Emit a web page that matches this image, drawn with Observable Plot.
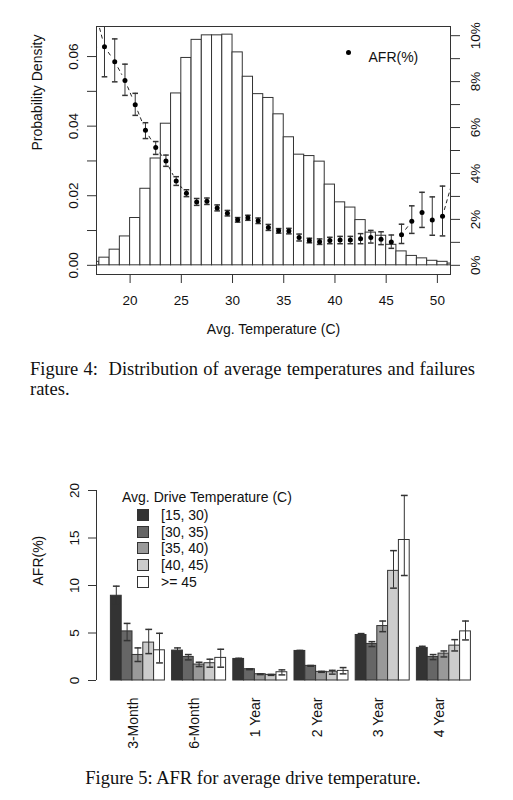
<!DOCTYPE html>
<html><head><meta charset="utf-8">
<script src="https://cdn.jsdelivr.net/npm/d3@7"></script>
<script src="https://cdn.jsdelivr.net/npm/@observablehq/plot@0.6"></script>
<style>
body{margin:0;background:#fff;font-family:"Liberation Sans",Arial,sans-serif;}
#root{position:relative;width:513px;height:800px;overflow:hidden;}
.cap{position:absolute;font-family:"Liberation Serif","Times New Roman",serif;font-size:18.5px;color:#111;line-height:20px;white-space:nowrap;}
.lg{position:absolute;font-family:"Liberation Sans",Arial,sans-serif;font-size:14px;color:#111;line-height:16px;white-space:nowrap;}
.sw{position:absolute;width:10px;height:10px;border:1px solid #333;}
</style></head><body>
<div id="root">
  <div id="fig4" style="position:absolute;left:0;top:0"></div>
  <div class="cap" style="left:30px;top:359px;width:445px;text-align:justify;text-align-last:justify;">Figure 4:&nbsp; Distribution of average temperatures and failures</div>
  <div class="cap" style="left:30px;top:379px;">rates.</div>
  <div id="fig5" style="position:absolute;left:0;top:470px"></div>
  <div id="legend5"></div>
  <div class="cap" style="left:0;top:768px;width:506px;text-align:center;">Figure 5: AFR for average drive temperature.</div>
</div>
<script>
// ---------- Figure 4 data ----------
const binStart = [16,17,18,19,20,21,22,23,24,25,26,27,28,29,30,31,32,33,34,35,36,37,38,39,40,41,42,43,44,45,46,47,48,49,50,51];
const density  = [0.0010,0.0022,0.0045,0.0083,0.0136,0.0220,0.0307,0.0407,0.0494,0.0596,0.0648,0.0661,0.0661,0.0663,0.0612,0.0542,0.0492,0.0481,0.0434,0.0368,0.0318,0.0314,0.0298,0.0232,0.0181,0.0166,0.0130,0.0094,0.0085,0.0059,0.0040,0.0027,0.0020,0.0013,0.0010,0.0005];
const afrTemp  = [16.5,17.5,18.5,19.5,20.5,21.5,22.5,23.5,24.5,25.5,26.5,27.5,28.5,29.5,30.5,31.5,32.5,33.5,34.5,35.5,36.5,37.5,38.5,39.5,40.5,41.5,42.5,43.5,44.5,45.5,46.5,47.5,48.5,49.5,50.5,51.5];
const afrPct   = [11.2,9.52,8.87,8.05,6.99,5.88,5.13,4.54,3.67,3.14,2.76,2.79,2.50,2.27,1.98,2.07,1.94,1.65,1.50,1.49,1.21,1.08,1.03,1.08,1.10,1.10,1.16,1.21,1.14,1.01,1.33,1.92,2.30,1.97,2.14,3.70];
const afrLo    = [9.5,8.21,7.99,7.40,6.53,5.52,4.83,4.31,3.48,2.99,2.61,2.65,2.37,2.15,1.88,1.96,1.82,1.52,1.40,1.37,1.06,0.98,0.91,0.94,0.94,0.94,0.94,0.97,0.90,0.74,0.95,1.39,1.65,1.31,1.28,2.50];
const afrHi    = [13.0,10.9,9.86,8.76,7.49,6.21,5.39,4.80,3.86,3.29,2.91,2.93,2.63,2.39,2.08,2.18,2.06,1.78,1.60,1.61,1.36,1.18,1.15,1.22,1.26,1.26,1.38,1.52,1.46,1.32,1.79,2.59,3.18,2.98,3.45,5.00];
const densityTicks = [0,0.01,0.02,0.03,0.04,0.05,0.06];
const pctTicks = [0,1,2,3,4,5,6,7,8,9,10];
const tempTicks = [20,25,30,35,40,45,50];

// ---------- Figure 5 data ----------
const periods = ["3-Month","6-Month","1 Year","2 Year","3 Year","4 Year"];
const tempGroups = ["[15, 30)","[30, 35)","[35, 40)","[40, 45)",">= 45"];
const grays = ["#333333","#666666","#999999","#cccccc","#ffffff"];
const afr15_30 = [8.92,3.15,2.27,3.11,4.79,3.43];
const afr30_35 = [5.17,2.48,1.19,1.54,3.85,2.48];
const afr35_40 = [2.69,1.68,0.66,0.91,5.73,2.83];
const afr40_45 = [3.99,1.82,0.59,0.87,11.54,3.67];
const afr45up  = [3.18,2.38,0.87,1.01,14.79,5.17];
const lo15_30 = [8.04,2.87,2.20,3.05,4.64,3.25], hi15_30 = [9.93,3.43,2.34,3.17,4.94,3.60];
const lo30_35 = [4.20,2.17,1.14,1.50,3.57,2.20], hi30_35 = [6.01,2.73,1.24,1.58,4.09,2.73];
const lo35_40 = [2.00,1.47,0.62,0.86,5.14,2.48], hi35_40 = [3.43,1.92,0.70,0.96,6.26,3.11];
const lo40_45 = [2.83,1.40,0.54,0.67,9.72,3.11], hi40_45 = [5.38,2.24,0.64,1.07,13.67,4.30];
const lo45up  = [1.85,1.40,0.59,0.70,11.05,4.27], hi45up  = [4.97,3.29,1.12,1.36,19.48,6.26];
const afrTicks5 = [0,5,10,15,20];

// ---------- Figure 4 ----------
const FONT = "'Liberation Sans', Arial, sans-serif";
const W = 513;
const PCT = 0.0066;              // density value that corresponds to 1% AFR on the right axis
const X4 = [16.72, 51.28], Y4 = [-0.00264, 0.06864];
const ML4 = 96, MR4 = 63, MT4 = 26, MB4 = 76, H4 = 350;
const kx4 = (W - ML4 - MR4) / (X4[1] - X4[0]);
const ky4 = (H4 - MT4 - MB4) / (Y4[1] - Y4[0]);

const hist = binStart.map((b, i) => ({x1: b, x2: b + 1, y: density[i]}));
const pts = afrTemp.map((t, i) => ({x: t, y: afrPct[i] * PCT, lo: afrLo[i] * PCT, hi: afrHi[i] * PCT}));
// type="b" style: connecting segments leave a gap around each point
const GAP = 6.5;
const segs = [];
for (let i = 0; i < pts.length - 1; i++) {
  const a = pts[i], b = pts[i + 1];
  const L = Math.hypot((b.x - a.x) * kx4, (b.y - a.y) * ky4);
  if (L > 2 * GAP + 0.5) {
    const f = GAP / L;
    segs.push({x1: a.x + (b.x - a.x) * f, y1: a.y + (b.y - a.y) * f,
               x2: b.x - (b.x - a.x) * f, y2: b.y - (b.y - a.y) * f});
  }
}
const capSym = {draw(ctx, size) { const r = Math.sqrt(size / Math.PI); ctx.moveTo(-r, 0); ctx.lineTo(r, 0); }};

const fig4 = Plot.plot({
  width: W, height: H4, marginLeft: ML4, marginRight: MR4, marginTop: MT4, marginBottom: MB4,
  style: {fontFamily: FONT, fontSize: "13.5px", color: "#111", background: "transparent"},
  x: {domain: X4}, y: {domain: Y4},
  marks: [
    Plot.rect(hist, {x1: "x1", x2: "x2", y1: 0, y2: "y", fill: "white", stroke: "#333", strokeWidth: 1, clip: true}),
    Plot.link(segs, {x1: "x1", y1: "y1", x2: "x2", y2: "y2", stroke: "#222", strokeDasharray: "4,3", clip: true}),
    Plot.ruleX(pts, {x: "x", y1: "lo", y2: "hi", stroke: "#333", clip: true}),
    Plot.dot(pts, {x: "x", y: "lo", symbol: capSym, r: 2.8, stroke: "#333", fill: "none", clip: true}),
    Plot.dot(pts, {x: "x", y: "hi", symbol: capSym, r: 2.8, stroke: "#333", fill: "none", clip: true}),
    Plot.dot(pts, {x: "x", y: "y", r: 2.5, fill: "#000", stroke: "none", clip: true}),
    Plot.frame({stroke: "#333"}),
    Plot.axisX(tempTicks, {anchor: "bottom", tickSize: 9, tickPadding: 12, label: null, stroke: "#333"}),
    Plot.axisY(densityTicks, {anchor: "left", tickSize: 9, tickPadding: 9.5, tickRotate: -90, textAnchor: "middle", lineAnchor: "bottom", label: null, stroke: "#333",
      tickFormat: d => (Math.round(d * 100) % 2 === 0 ? d.toFixed(2) : "")}),
    Plot.axisY(pctTicks.map(p => p * PCT), {anchor: "right", tickSize: 9, tickPadding: 10.7, tickRotate: -90, textAnchor: "middle", lineAnchor: "top", label: null, stroke: "#333",
      tickFormat: d => { const p = Math.round(d / PCT); return p % 2 === 0 ? p + "%" : ""; }}),
    Plot.text(["Avg. Temperature (C)"], {frameAnchor: "bottom", dy: 59, fontSize: 14}),
    Plot.text(["Probability Density"], {frameAnchor: "left", dx: -59, rotate: -90, fontSize: 14}),
    Plot.dot([0], {frameAnchor: "top-right", dx: -102, dy: 26, r: 2.5, fill: "#000"}),
    Plot.text(["AFR(%)"], {frameAnchor: "top-right", dx: -82, dy: 26, textAnchor: "start", fontSize: 14})
  ]
});
document.getElementById("fig4").appendChild(fig4);

// ---------- Figure 5 ----------
const vals = [afr15_30, afr30_35, afr35_40, afr40_45, afr45up];
const los = [lo15_30, lo30_35, lo35_40, lo40_45, lo45up];
const his = [hi15_30, hi30_35, hi35_40, hi40_45, hi45up];
const S = 2 / 3, NT = tempGroups.length, NG = periods.length;
const barLeft = (g, t) => S + g * (NT + S) + t;
const bars = [];
periods.forEach((p, g) => tempGroups.forEach((tg, t) => bars.push({
  period: p, temp: tg, x1: barLeft(g, t), x2: barLeft(g, t) + 1, xc: barLeft(g, t) + 0.5,
  y: vals[t][g], lo: los[t][g], hi: his[t][g]})));
const groupLabels = periods.map((p, g) => ({label: p, x: barLeft(g, 0) + NT / 2}));
const ext = 0.04 * (NG * NT + (NG - 1) * S);
const X5 = [S - ext, NG * (NT + S) + ext];
const ML5 = 96, MT5 = 20, MB5 = 90, H5 = 300, UNIT = 10.8;
const MR5 = W - ML5 - UNIT * (X5[1] - X5[0]);

const fig5 = Plot.plot({
  width: W, height: H5, marginLeft: ML5, marginRight: MR5, marginTop: MT5, marginBottom: MB5,
  style: {fontFamily: FONT, fontSize: "13.5px", color: "#111", background: "transparent"},
  x: {domain: X5, axis: null}, y: {domain: [afrTicks5[0], afrTicks5[afrTicks5.length - 1]]},
  color: {domain: tempGroups, range: grays},
  marks: [
    Plot.rect(bars, {x1: "x1", x2: "x2", y1: 0, y2: "y", fill: "temp", stroke: "#333", strokeWidth: 1}),
    Plot.ruleX(bars, {x: "xc", y1: "lo", y2: "hi", stroke: "#333"}),
    Plot.dot(bars, {x: "xc", y: "lo", symbol: capSym, r: 3.4, stroke: "#333", fill: "none"}),
    Plot.dot(bars, {x: "xc", y: "hi", symbol: capSym, r: 3.4, stroke: "#333", fill: "none"}),
    Plot.ruleX([X5[0]], {y1: afrTicks5[0], y2: afrTicks5[afrTicks5.length - 1], stroke: "#333"}),
    Plot.axisY(afrTicks5, {anchor: "left", tickSize: 8, tickPadding: 9.7, tickRotate: -90, textAnchor: "middle", lineAnchor: "bottom", label: null, stroke: "#333"}),
    Plot.text(groupLabels, {x: "x", text: "label", frameAnchor: "bottom", dy: 17, rotate: -90, textAnchor: "end", fontSize: 14}),
    Plot.text(["AFR(%)"], {frameAnchor: "left", dx: -58, rotate: -90, fontSize: 14})
  ]
});
document.getElementById("fig5").appendChild(fig5);

// legend for figure 5 (HTML overlay)
const lg = document.getElementById("legend5");
const title = document.createElement("div");
title.className = "lg"; title.style.left = "122px"; title.style.top = "489px";
title.textContent = "Avg. Drive Temperature (C)";
lg.appendChild(title);
tempGroups.forEach((tg, i) => {
  const cy = 515 + i * 16.67;
  const sw = document.createElement("div");
  sw.className = "sw"; sw.style.left = "137px"; sw.style.top = (cy - 6) + "px"; sw.style.background = grays[i];
  lg.appendChild(sw);
  const tx = document.createElement("div");
  tx.className = "lg"; tx.style.left = "161px"; tx.style.top = (cy - 8) + "px";
  tx.textContent = tg;
  lg.appendChild(tx);
});
</script>
</body></html>
